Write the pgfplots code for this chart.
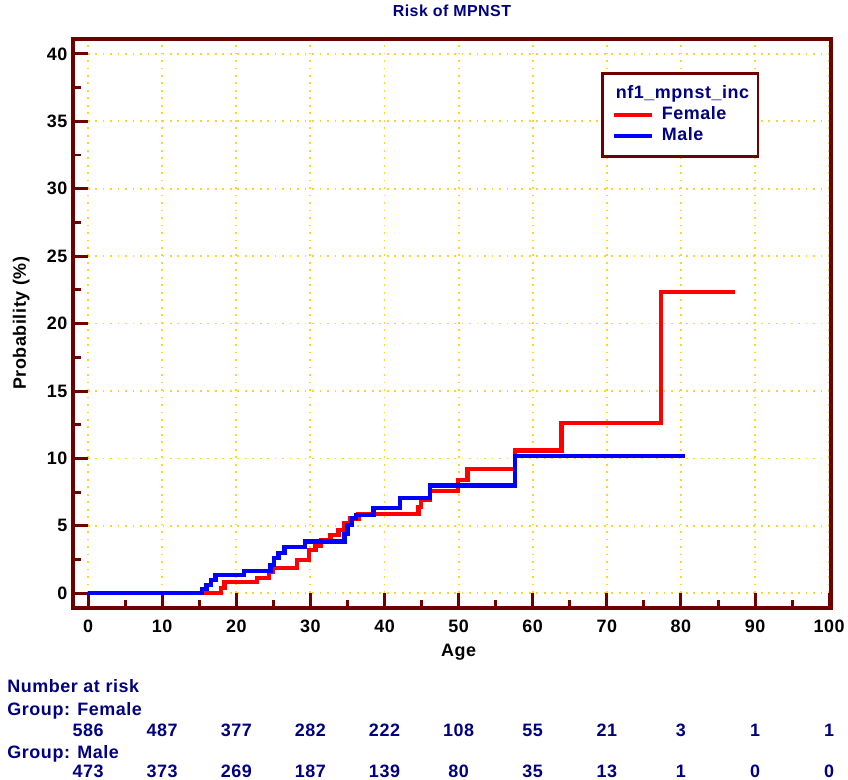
\documentclass[border=0pt]{standalone}
\usepackage{pgfplots}
\pgfplotsset{compat=1.18}
\usepackage{fontspec}
\setmainfont{Liberation Sans}[LetterSpace=3]
\definecolor{maroonframe}{RGB}{110,0,0}
\definecolor{gridgold}{RGB}{255,212,40}
\definecolor{navytext}{RGB}{0,0,128}
\newcommand{\fs}[1]{\fontsize{#1}{#1}\selectfont\bfseries}
\begin{document}
\begin{tikzpicture}
\begin{axis}[
  scale only axis,
  width=760.5pt, height=570.5pt,
  xmin=-2.06, xmax=100.26,
  ymin=-1.07, ymax=41.11,
  clip mode=individual,
  axis line style={maroonframe, line width=4pt},
  tick style={maroonframe, line width=3pt},
  major tick length=15pt, minor tick length=8pt,
  tick pos=left, tick align=inside,
  xtick={0,10,...,100}, ytick={0,5,...,40},
  minor xtick={5,15,...,95}, minor ytick={2.5,7.5,...,37.5},
  grid=major,
  major grid style={gridgold, line width=1.8pt, dash pattern=on 1.8pt off 5.7pt},
  ticklabel style={font=\fs{18}, /pgf/number format/assume math mode=true},
  xticklabel style={yshift=-9pt},
  yticklabel style={xshift=-2pt},
  title={Risk of MPNST},
  title style={font=\fs{16}, text=navytext, at={(axis description cs:0.5,1)}, anchor=base, yshift=16pt},
  xlabel={Age},
  xlabel style={font=\fs{18}, at={(axis cs:50,-1.07)}, anchor=base, yshift=-49pt},
  ylabel={Probability (\%)},
  ylabel style={font=\fs{18}, at={(axis description cs:-0.0618,0.5)}, anchor=base},
  legend cell align=left,
  legend image code/.code={\draw[#1] (0pt,0pt) -- (38pt,0pt);},
  legend style={at={(axis description cs:0.697,0.942)}, anchor=north west,
    draw=maroonframe, line width=2.7pt, fill=white,
    font=\fs{18}, text=navytext,
    inner xsep=9pt, inner ysep=12pt,
    column sep=8pt, row sep=4.2pt,
    nodes={inner sep=0pt, text height=13pt, text depth=4pt}},
]
\addlegendimage{empty legend}
\addlegendentry{\hspace{-46pt}nf1\_mpnst\_inc\hspace{9pt}}
\addplot[const plot, red, line width=4.3pt] coordinates {
(0,0) (17.9,0.37) (18.4,0.82) (22.8,1.16) (24.4,1.6) (24.9,1.87)
(28.2,2.46) (29.8,3.2) (30.7,3.52) (31.4,3.94) (32.7,4.3) (33.8,4.68)
(34.5,5.17) (35.4,5.54) (36.5,5.88) (44.6,6.4) (44.9,6.9) (46.1,7.56)
(49.9,8.4) (51.2,9.24) (57.6,10.6) (63.9,12.64) (77.3,22.34) (87.3,22.34)
};
\addlegendentry{Female}
\addplot[const plot, blue, line width=4.3pt] coordinates {
(0,0) (15.4,0.3) (16.0,0.6) (16.6,1.0) (17.2,1.35) (21.0,1.65)
(24.6,2.1) (25.1,2.6) (25.7,3.0) (26.5,3.45) (29.3,3.85) (34.6,4.4)
(35.0,5.05) (35.6,5.6) (36.2,5.79) (38.5,6.35) (42.1,7.07) (46.1,8.0)
(57.6,10.2) (80.5,10.2)
};
\addlegendentry{Male}
\tikzset{rt/.style={text=navytext, font=\fs{18}, inner sep=0pt}}
\node[rt, anchor=base west] at (axis cs:-10.9,-7.39) {Number at risk};
\node[rt, anchor=base west] at (axis cs:-10.9,-9.04) {Group: Female};
\node[rt, anchor=base west] at (axis cs:-10.9,-12.24) {Group: Male};
\node[rt, anchor=base] at (axis cs:0,-10.59) {586};
\node[rt, anchor=base] at (axis cs:10,-10.59) {487};
\node[rt, anchor=base] at (axis cs:20,-10.59) {377};
\node[rt, anchor=base] at (axis cs:30,-10.59) {282};
\node[rt, anchor=base] at (axis cs:40,-10.59) {222};
\node[rt, anchor=base] at (axis cs:50,-10.59) {108};
\node[rt, anchor=base] at (axis cs:60,-10.59) {55};
\node[rt, anchor=base] at (axis cs:70,-10.59) {21};
\node[rt, anchor=base] at (axis cs:80,-10.59) {3};
\node[rt, anchor=base] at (axis cs:90,-10.59) {1};
\node[rt, anchor=base] at (axis cs:100,-10.59) {1};
\node[rt, anchor=base] at (axis cs:0,-13.64) {473};
\node[rt, anchor=base] at (axis cs:10,-13.64) {373};
\node[rt, anchor=base] at (axis cs:20,-13.64) {269};
\node[rt, anchor=base] at (axis cs:30,-13.64) {187};
\node[rt, anchor=base] at (axis cs:40,-13.64) {139};
\node[rt, anchor=base] at (axis cs:50,-13.64) {80};
\node[rt, anchor=base] at (axis cs:60,-13.64) {35};
\node[rt, anchor=base] at (axis cs:70,-13.64) {13};
\node[rt, anchor=base] at (axis cs:80,-13.64) {1};
\node[rt, anchor=base] at (axis cs:90,-13.64) {0};
\node[rt, anchor=base] at (axis cs:100,-13.64) {0};
\end{axis}
\path ([shift={(-73pt,-172.5pt)}]current axis.south west) rectangle ([shift={(14.5pt,39pt)}]current axis.north east);
\end{tikzpicture}
\end{document}
